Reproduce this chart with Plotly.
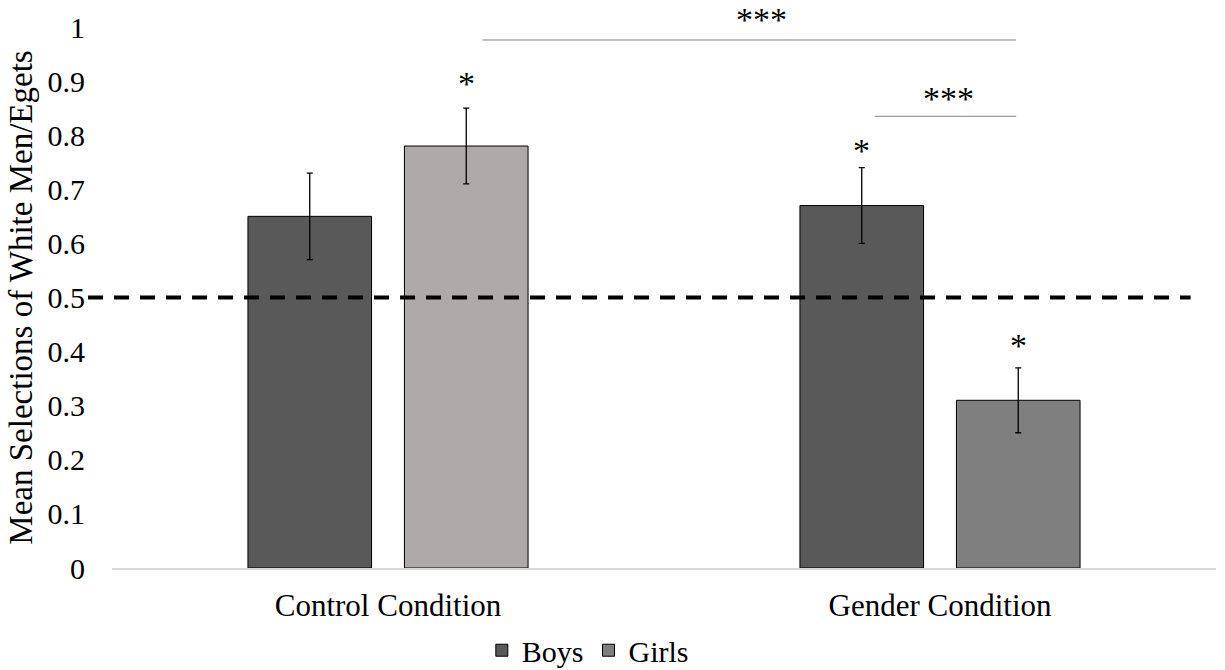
import plotly.graph_objects as go

categories = ["Control Condition", "Gender Condition"]
boys = [0.65, 0.67]
boys_err = [0.08, 0.07]
girls = [0.78, 0.31]
girls_err = [0.07, 0.06]
boys_color = "#595959"
girls_colors = ["#AEAAAA", "#7F7F7F"]
chance_level = 0.5
yticks = [0, 0.1, 0.2, 0.3, 0.4, 0.5, 0.6, 0.7, 0.8, 0.9, 1]
ytick_labels = ["0", "0.1", "0.2", "0.3", "0.4", "0.5", "0.6", "0.7", "0.8", "0.9", "1"]

# significance markers: (x position in category units, y in paper units)
single_stars = [(0.1417, 0.934), (0.8583, 0.810), (1.1417, 0.411)]
# (line x0, line x1, line y, label x, label y)
brackets = [(0.171, 1.138, 0.976, 0.676, 1.052), (0.882, 1.138, 0.835, 1.0145, 0.906)]

FONT = "Times New Roman, Liberation Serif, DejaVu Serif, serif"
bargap = 0.433

fig = go.Figure()
eb = dict(type="data", thickness=1.3, width=3, color="black")
fig.add_trace(go.Bar(
    x=categories, y=boys, name="Boys", offsetgroup="boys",
    marker=dict(color=boys_color, line=dict(color="black", width=1)),
    error_y=dict(array=boys_err, **eb),
))
fig.add_trace(go.Bar(
    x=categories[:1], y=girls[:1], name="Girls", offsetgroup="girls", showlegend=False,
    marker=dict(color=girls_colors[0], line=dict(color="black", width=1)),
    error_y=dict(array=girls_err[:1], **eb),
))
fig.add_trace(go.Bar(
    x=categories[1:], y=girls[1:], name="Girls", offsetgroup="girls",
    marker=dict(color=girls_colors[1], line=dict(color="black", width=1)),
    error_y=dict(array=girls_err[1:], **eb),
))

# chance line
fig.add_shape(type="line", xref="paper", yref="y", x0=-0.0217, x1=0.977,
              y0=chance_level, y1=chance_level,
              line=dict(color="black", width=4, dash="15px,11px"), layer="above")

for x0, x1, yl, xs, ys in brackets:
    fig.add_shape(type="line", xref="x", yref="y", x0=x0, x1=x1, y0=yl, y1=yl,
                  line=dict(color="#808080", width=1))
    fig.add_annotation(x=xs, y=ys, xref="x", yref="paper", text="***", showarrow=False,
                       font=dict(family=FONT, size=34, color="black"))

for xs, ys in single_stars:
    fig.add_annotation(x=xs, y=ys, xref="x", yref="paper", text="*", showarrow=False,
                       font=dict(family=FONT, size=34, color="black"))

fig.update_layout(
    width=1225, height=670,
    margin=dict(l=112, r=9, t=27, b=102, autoexpand=False),
    paper_bgcolor="white", plot_bgcolor="white",
    barmode="group", bargap=bargap, bargroupgap=0.21,
    font=dict(family=FONT, size=30, color="black"),
    showlegend=True,
    legend=dict(orientation="h", x=0.431, xanchor="center", y=-0.152, yanchor="middle",
                font=dict(family=FONT, size=30), traceorder="normal",
                itemwidth=30, tracegroupgap=0),
    xaxis=dict(showline=True, linecolor="#D9D9D9", linewidth=1.5, showgrid=False,
               ticks="", ticklabelstandoff=9, tickfont=dict(family=FONT, size=31),
               automargin=False),
    yaxis=dict(range=[0, 1], tickvals=yticks, ticktext=ytick_labels,
               showgrid=False, zeroline=False, showline=False, ticks="",
               ticklabelstandoff=26, tickfont=dict(family=FONT, size=30), automargin=False,
               title=dict(text="Mean Selections of White Men/Egets",
                          font=dict(family=FONT, size=33), standoff=4)),
)

fig.write_html("out.html", config={"displayModeBar": False},
               post_script="document.body.style.margin='0px';document.body.style.overflow='hidden';")
